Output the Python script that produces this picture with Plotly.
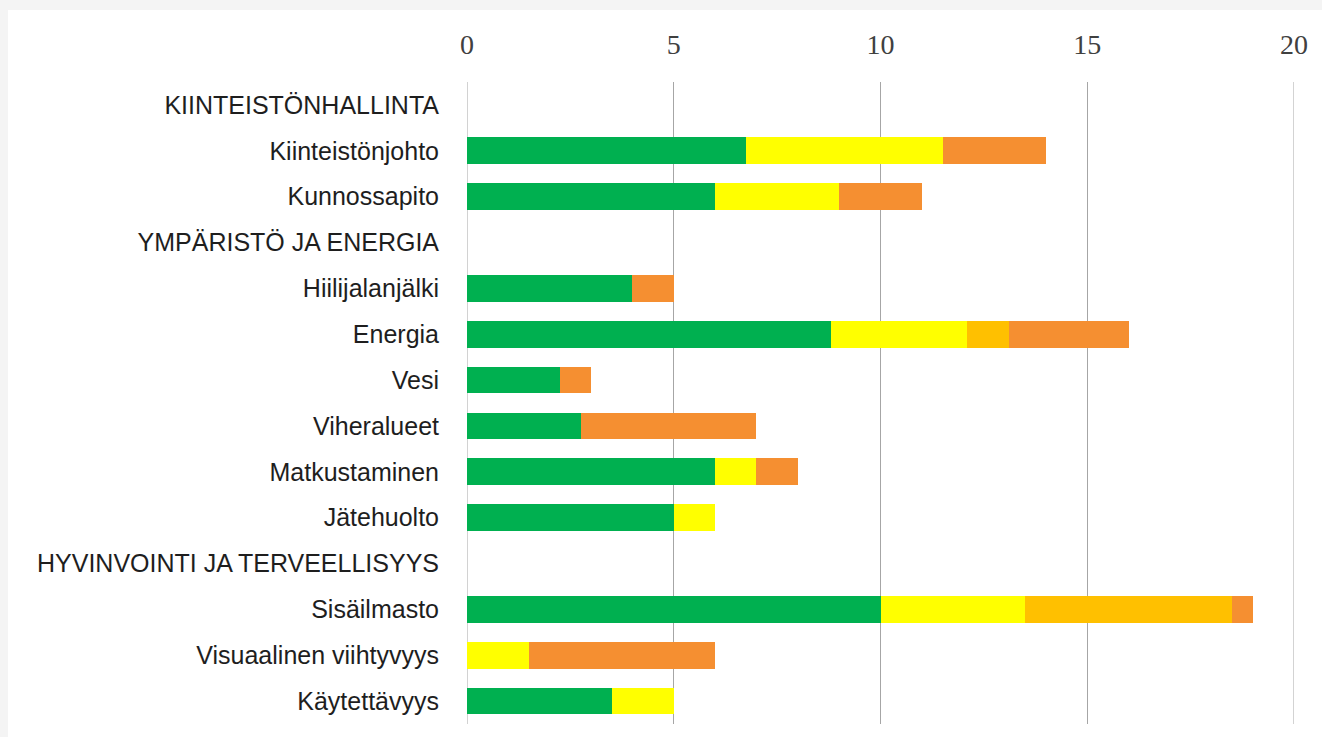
import plotly.graph_objects as go

categories = [
    "KIINTEISTÖNHALLINTA",
    "Kiinteistönjohto",
    "Kunnossapito",
    "YMPÄRISTÖ JA ENERGIA",
    "Hiilijalanjälki",
    "Energia",
    "Vesi",
    "Viheralueet",
    "Matkustaminen",
    "Jätehuolto",
    "HYVINVOINTI JA TERVEELLISYYS",
    "Sisäilmasto",
    "Visuaalinen viihtyvyys",
    "Käytettävyys",
]

green = [None, 6.75, 6.0, None, 4.0, 8.8, 2.25, 2.75, 6.0, 5.0, None, 10.0, 0, 3.5]
yellow = [None, 4.75, 3.0, None, 0, 3.3, 0, 0, 1.0, 1.0, None, 3.5, 1.5, 1.5]
gold = [None, 0, 0, None, 0, 1.0, 0, 0, 0, 0, None, 5.0, 0, 0]
orange = [None, 2.5, 2.0, None, 1.0, 2.9, 0.75, 4.25, 1.0, 0, None, 0.5, 4.5, 0]

x_ticks = [0, 5, 10, 15, 20]

series = [
    ("Vihreä", green, "#00b050"),
    ("Keltainen", yellow, "#ffff00"),
    ("Kulta", gold, "#ffc000"),
    ("Oranssi", orange, "#f58f31"),
]

fig = go.Figure()
for name, vals, col in series:
    fig.add_trace(go.Bar(
        y=categories, x=vals, name=name, orientation="h",
        marker=dict(color=col, line=dict(width=0)),
        width=0.58,
    ))

W, H = 1322, 737
ml, mr, mt, mb = 467, 28, 82, 13
pw = W - ml - mr
ph = H - mt - mb

grid_shapes = [
    dict(type="line", xref="x", yref="paper", x0=v, x1=v, y0=0, y1=1,
         line=dict(color="#a6a6a6", width=1), layer="below")
    for v in (x_ticks[0], x_ticks[-1])
]

fig.update_layout(
    width=W, height=H,
    barmode="stack",
    showlegend=False,
    paper_bgcolor="#f4f4f4",
    plot_bgcolor="white",
    margin=dict(l=ml, r=mr, t=mt, b=mb, pad=0),
    xaxis=dict(
        side="top", range=[0, 20], tickvals=x_ticks,
        showgrid=True, gridcolor="#a6a6a6", gridwidth=1,
        zeroline=False, showline=False, ticks="",
        tickfont=dict(family="Liberation Serif", size=28, color="#404040"),
        ticklabelstandoff=21,
        fixedrange=True,
    ),
    yaxis=dict(
        autorange="reversed", categoryorder="array", categoryarray=categories,
        showgrid=False, zeroline=False, showline=False, ticks="",
        tickfont=dict(family="Liberation Sans Narrow, Arial Narrow, Liberation Sans", size=25, color="#1e1e1e"),
        ticklabelstandoff=27,
        fixedrange=True,
    ),
    shapes=[
        dict(type="rect", xref="paper", yref="paper", layer="below",
             x0=(8 - ml) / pw, x1=(W + 10 - ml) / pw,
             y0=(H - mb - H - 10) / ph, y1=(H - mb - 10) / ph,
             fillcolor="white", line=dict(width=0)),
    ] + grid_shapes,
)

fig.write_html(
    "out.html",
    config={"displayModeBar": False},
    post_script="document.body.style.margin='0';document.body.style.background='#f4f4f4';document.body.style.overflow='hidden';",
)
